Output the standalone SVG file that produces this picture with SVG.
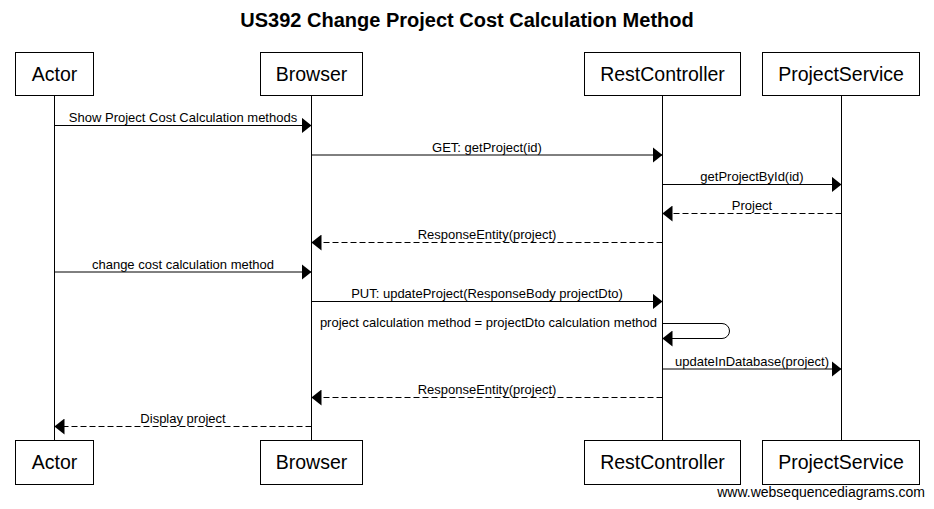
<svg xmlns="http://www.w3.org/2000/svg" width="934" height="509" viewBox="0 0 934 509">
<style>
text{font-family:"Liberation Sans",Arial,sans-serif;fill:#000}
.title{font-size:20px;font-weight:bold;text-anchor:middle}
.box{fill:#fff;stroke:#000;stroke-width:1}
.pname{font-size:19.5px;text-anchor:middle}
.life{stroke:#000;stroke-width:1}
.msg{stroke:#000;stroke-width:1;fill:none;marker-end:url(#ah)}
.dash{stroke-dasharray:6,3}
.lbl{font-size:13px;text-anchor:middle}
.wm{font-size:14px;text-anchor:end}
</style>
<defs>
<marker id="ah" viewBox="0 0 10 16" refX="10" refY="8" markerWidth="10" markerHeight="16" markerUnits="userSpaceOnUse" orient="auto">
<path d="M0,0 L10,8 L0,16 Z" fill="#000" stroke="none"/>
</marker>
</defs>
<rect width="934" height="509" fill="#fff"/>
<text class="title" x="467" y="27">US392 Change Project Cost Calculation Method</text>
<g id="lifelines">
<line class="life" x1="54.5" y1="96" x2="54.5" y2="440"/>
<line class="life" x1="311.5" y1="96" x2="311.5" y2="440"/>
<line class="life" x1="662.5" y1="96" x2="662.5" y2="440"/>
<line class="life" x1="841.5" y1="96" x2="841.5" y2="440"/>
</g>
<g id="actor">
<rect class="box" x="15.5" y="52.5" width="78" height="43"/>
<text class="pname" x="54.5" y="81">Actor</text>
<rect class="box" x="15.5" y="440.5" width="78" height="44"/>
<text class="pname" x="54.5" y="469">Actor</text>
</g>
<g id="browser">
<rect class="box" x="260.5" y="52.5" width="102" height="43"/>
<text class="pname" x="311.5" y="81">Browser</text>
<rect class="box" x="260.5" y="440.5" width="102" height="44"/>
<text class="pname" x="311.5" y="469">Browser</text>
</g>
<g id="restcontroller">
<rect class="box" x="584.5" y="52.5" width="156" height="43"/>
<text class="pname" x="662.5" y="81">RestController</text>
<rect class="box" x="584.5" y="440.5" width="156" height="44"/>
<text class="pname" x="662.5" y="469">RestController</text>
</g>
<g id="projectservice">
<rect class="box" x="762.5" y="52.5" width="157" height="43"/>
<text class="pname" x="841" y="81">ProjectService</text>
<rect class="box" x="762.5" y="440.5" width="157" height="44"/>
<text class="pname" x="841" y="469">ProjectService</text>
</g>
<g id="connectors">
<line class="msg" x1="54.5" y1="125.5" x2="311.5" y2="125.5"/>
<text class="lbl" x="183" y="122">Show Project Cost Calculation methods</text>
<line class="msg" x1="311.5" y1="155" x2="662.5" y2="155"/>
<text class="lbl" x="487" y="151.5">GET: getProject(id)</text>
<line class="msg" x1="662.5" y1="184.5" x2="841.5" y2="184.5"/>
<text class="lbl" x="752" y="181">getProjectById(id)</text>
<line class="msg dash" x1="841.5" y1="213.5" x2="662.5" y2="213.5"/>
<text class="lbl" x="752" y="210">Project</text>
<line class="msg dash" x1="662.5" y1="242.5" x2="311.5" y2="242.5"/>
<text class="lbl" x="487" y="239">ResponseEntity(project)</text>
<line class="msg" x1="54.5" y1="272" x2="311.5" y2="272"/>
<text class="lbl" x="183" y="268.5">change cost calculation method</text>
<line class="msg" x1="311.5" y1="301.5" x2="662.5" y2="301.5"/>
<text class="lbl" x="487" y="298">PUT: updateProject(ResponseBody projectDto)</text>
<path class="msg" d="M662.5,323.5 H722 A7.5,7.5 0 0 1 722,338.5 H662.5"/>
<text class="lbl" style="text-anchor:end" x="657" y="327">project calculation method = projectDto calculation method</text>
<line class="msg" x1="662.5" y1="369" x2="841.5" y2="369"/>
<text class="lbl" x="752" y="365.5">updateInDatabase(project)</text>
<line class="msg dash" x1="662.5" y1="397.5" x2="311.5" y2="397.5"/>
<text class="lbl" x="487" y="394">ResponseEntity(project)</text>
<line class="msg dash" x1="311.5" y1="426.5" x2="54.5" y2="426.5"/>
<text class="lbl" x="183" y="423">Display project</text>
</g>
<text class="wm" x="925" y="497">www.websequencediagrams.com</text>
</svg>
